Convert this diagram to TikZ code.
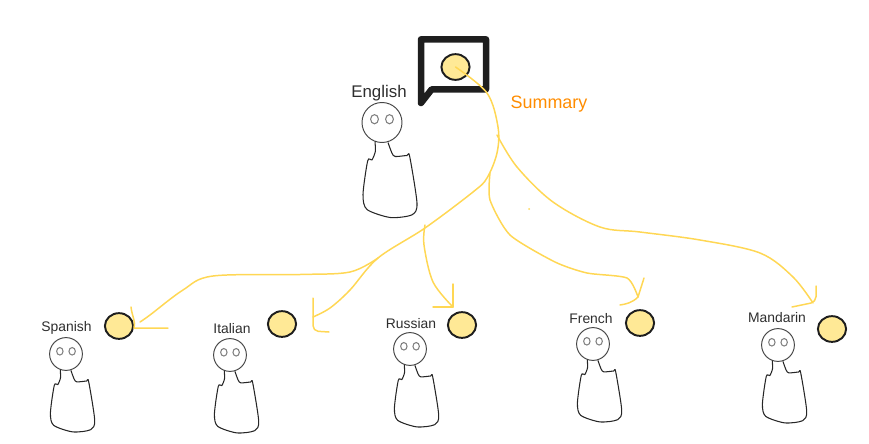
\documentclass[tikz,border=0pt]{standalone}
\usepackage{fontspec}
\setmainfont{Liberation Sans}
\usetikzlibrary{shapes.geometric}
\definecolor{inkdark}{HTML}{1E1E1E}
\definecolor{tokenfill}{HTML}{FFE996}
\definecolor{wirecol}{HTML}{FFD754}
\definecolor{sumcol}{HTML}{FF8C00}
\tikzset{
  token/.style={ellipse, draw=inkdark, fill=tokenfill, line width=1.1pt,
    minimum width=5.64mm, minimum height=5.14mm, inner sep=0pt},
  lbl/.style={inner sep=0pt, text=black!82, font=\fontsize{7.9}{9}\selectfont},
  wire/.style={draw=wirecol, line width=0.85pt, line cap=round, line join=round},
  person/.pic={
    \draw[black!72, line width=0.55pt] (0,0) circle (20);
    \draw[black!50, line width=0.6pt] (-7.5,-3.3) ellipse (3.9 and 4.6) (7.5,-3.3) ellipse (3.9 and 4.6);
    \draw[black!85, line width=0.6pt] plot[smooth, tension=0.45] coordinates {
      (-7,19) (-6.7,29) (-10,37.3) (-14.3,38.3) (-19,72) (-15,87) (8.3,95)
      (30,92.3) (35,80.7) (27.7,34) (25,33) (13.3,34) (10,30.7) (6,20)};
  }
}
\begin{document}
\begin{tikzpicture}[x=0.02cm, y=-0.02cm]
  \useasboundingbox (0,0) rectangle (869,443);
  % speech bubble
  \draw[inkdark, line width=3.7pt, line join=round]
    (431.7,89.3) -- (421,103) -- (421,39.3) -- (486,39.3) -- (486,89.3) -- cycle;
  \node[token] (src) at (455.5,67) {};
  \node[token] (tokES) at (119,326) {};
  \node[token] (tokIT) at (282,324) {};
  \node[token] (tokRU) at (462,325) {};
  \node[token] (tokFR) at (640,323) {};
  \node[token] (tokZH) at (832,329) {};

  \pic at (382,122.5) {person};
  \pic[scale=0.82] at (66,354) {person};
  \pic[scale=0.82] at (230,355) {person};
  \pic[scale=0.82] at (410,349) {person};
  \pic[scale=0.82] at (593,344) {person};
  \pic[scale=0.82] at (778,345) {person};

  \node[lbl, font=\fontsize{9.6}{11}\selectfont] (en) at (379,93) {English};
  \node[lbl, text=sumcol, font=\fontsize{10.2}{12}\selectfont] (summary) at (549,104) {Summary};
  \node[lbl] (es) at (66.5,328) {Spanish};
  \node[lbl] (it) at (232,329) {Italian};
  \node[lbl] (ru) at (411,324) {Russian};
  \node[lbl] (fr) at (591,319) {French};
  \node[lbl] (zh) at (777,318) {Mandarin};

  \coordinate (forkZH) at (497,135);
  \coordinate (forkFR) at (490,173);
  \coordinate (forkRU) at (425,225);
  \coordinate (forkES) at (378,258);
  \coordinate (tipES) at (140,322);
  \coordinate (tipIT) at (313,317);
  \coordinate (tipRU) at (453,307);
  \coordinate (tipFR) at (638,297);
  \coordinate (tipZH) at (813,303);

  \draw[wire] plot[smooth, tension=0.55] coordinates {(src.center) (487,93) (498,127)
    (497,153) (487,178) (473,192) (425,228) (forkES) (350,290) (330,308) (tipIT)};
  \draw[wire] plot[smooth, tension=0.55] coordinates {(forkES) (350,272) (300,274.5)
    (213,276) (183,290) (150,315) (tipES)};
  \draw[wire] plot[smooth, tension=0.55] coordinates {(forkRU) (424,245) (433,282) (tipRU)};
  \draw[wire] plot[smooth, tension=0.4] coordinates {(forkFR) (490,200) (510,235)
    (555,262) (587,273) (627,278) (tipFR)};
  \draw[wire] plot[smooth, tension=0.55] coordinates {(forkZH) (517,167) (553,202)
    (600,227) (640,232) (700,240) (760,253) (793,277) (tipZH)};

  % hand drawn arrow heads
  \draw[wire] (131,307) .. controls (132,316) and (136,322) .. (134,328) -- (168,328);
  \draw[wire, rounded corners=3pt] (313,298) -- (313,331) -- (329,332);
  \draw[wire] (453,284) -- (tipRU) -- (433,307);
  \draw[wire] (644,278) -- (tipFR) .. controls (632,303) and (626,304) .. (620,305);
  \draw[wire, rounded corners=3pt] (816,286) -- (816,302) -- (792,307);
  \fill[wirecol] (529,209) circle (1);
\end{tikzpicture}
\end{document}
